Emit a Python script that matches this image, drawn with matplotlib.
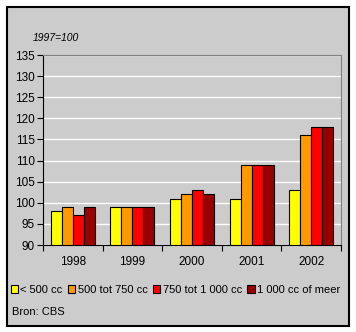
import numpy as np
import matplotlib.pyplot as plt
from matplotlib.patches import Rectangle

plt.rcParams['font.family'] = ['Liberation Sans', 'DejaVu Sans']

years = ['1998', '1999', '2000', '2001', '2002']
series_names = ['< 500 cc', '500 tot 750 cc', '750 tot 1 000 cc', '1 000 cc of meer']
lt500 = [98, 99, 101, 101, 103]
s500_750 = [99, 99, 102, 109, 116]
s750_1000 = [97, 99, 103, 109, 118]
ge1000 = [99, 99, 102, 109, 118]
colors = ['#FFFF00', '#FF9900', '#FF0000', '#990000']

W, H = 356, 332
fig = plt.figure(figsize=(W / 100, H / 100), dpi=100, facecolor='white')

# grey panel with black border
fig.patches.append(Rectangle((7 / W, 1 - 326 / H), 342 / W, 319 / H, transform=fig.transFigure,
                             facecolor='#CCCCCC', edgecolor='black', linewidth=1.5, zorder=-10))

ax = fig.add_axes([43 / W, 1 - 245 / H, 298 / W, 190 / H])
ax.set_zorder(1)
ax.set_facecolor('#CCCCCC')

x = np.arange(len(years))
bw = 0.185
data = [lt500, s500_750, s750_1000, ge1000]
for i, (vals, c, name) in enumerate(zip(data, colors, series_names)):
    ax.bar(x + (i - 1.5) * bw, np.array(vals) - 90, bottom=90, width=bw, color=c,
           edgecolor='black', linewidth=0.8, label=name, zorder=3)

ax.set_ylim(90, 135)
ax.set_xlim(-0.5, 4.5)
ax.set_yticks(range(90, 136, 5))
ax.yaxis.grid(True, color='white', linewidth=1, zorder=0)
ax.set_xticks(np.arange(-0.5, 5, 1))
ax.set_xticklabels([])
ax.set_xticks(x, minor=True)
ax.set_xticklabels(years, minor=True)
ax.tick_params(axis='x', which='minor', length=0, pad=8, labelsize=8.5)
ax.tick_params(axis='x', which='major', length=4, direction='out', width=0.8)
ax.tick_params(axis='y', length=4, direction='out', width=0.8, labelsize=8.5, pad=2)

for s in ['top', 'right']:
    ax.spines[s].set_color('#808080')
    ax.spines[s].set_linewidth(0.8)
for s in ['left', 'bottom']:
    ax.spines[s].set_color('black')
    ax.spines[s].set_linewidth(0.8)

fig.text(33 / W, 1 - 38 / H, '1997=100', fontsize=7.5, style='italic', va='center', ha='left')

fig.legend(loc='center left', bbox_to_anchor=(11 / W, 1 - 290 / H), ncol=4, frameon=False,
           fontsize=8, handlelength=0.65, handleheight=0.65, handletextpad=0.2,
           columnspacing=0.5, borderpad=0, borderaxespad=0)

fig.text(12 / W, 1 - 312 / H, 'Bron: CBS', fontsize=8, va='center', ha='left')

fig.savefig('out.png', dpi=100, facecolor='white')
